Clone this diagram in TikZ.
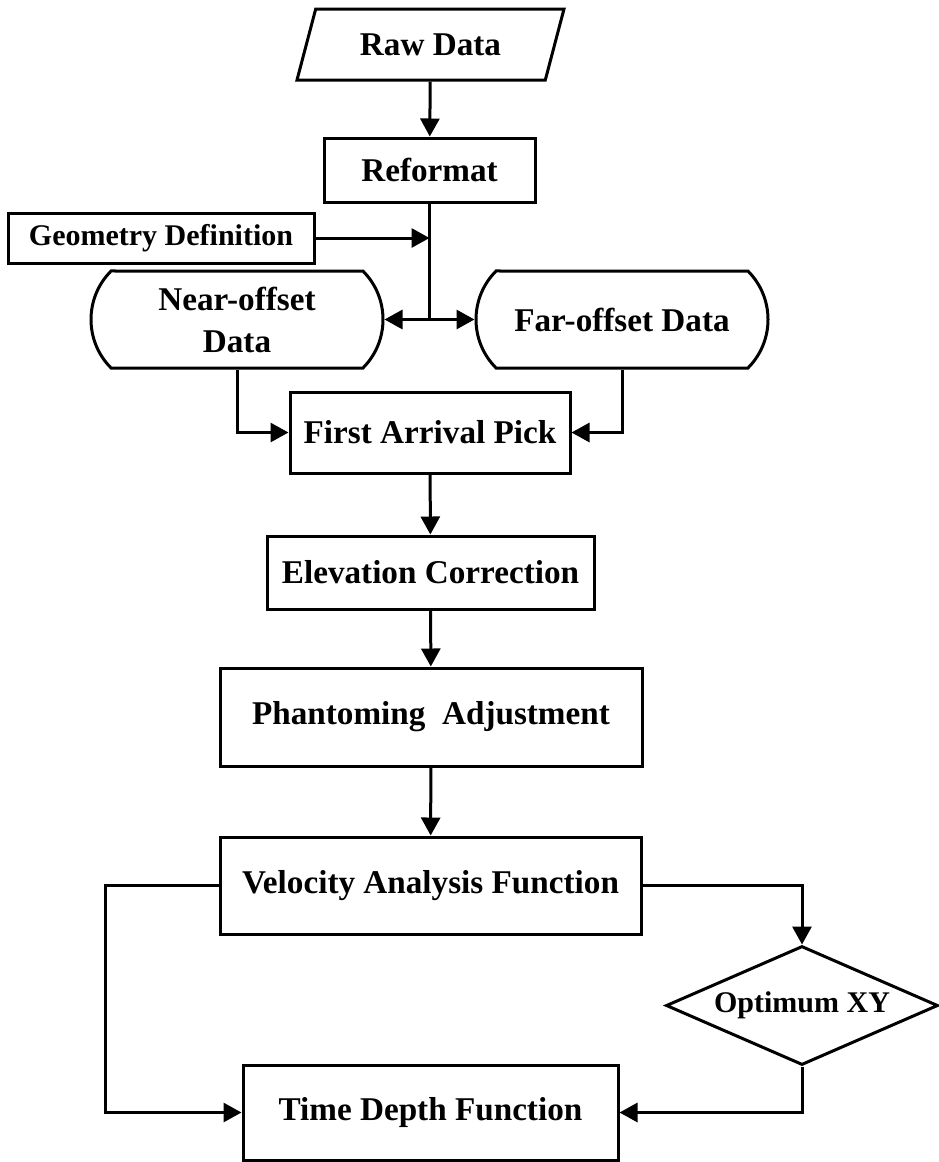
\documentclass[tikz,border=0pt]{standalone}
\usepackage{fontspec}
\setmainfont{Liberation Serif}
\usepackage{tikz}
\usetikzlibrary{arrows.meta,shapes.geometric,shapes.misc}
\newcommand{\bigtxt}{\bfseries\fontsize{16.6}{21}\selectfont}
\newcommand{\smalltxt}{\bfseries\fontsize{15}{18}\selectfont}

\begin{document}
\begin{tikzpicture}[
  x=0.5pt, y=-0.5pt,
  >={Triangle[length=9pt,width=9.5pt]},
  line width=1.5pt,
  edge/.style={->, line width=1.5pt},
  box/.style={draw, rectangle, align=center, inner sep=0pt, font=\bigtxt},
  datanode/.style={draw, rounded rectangle, rounded rectangle arc length=90,
                   align=center, inner sep=0pt, font=\bigtxt,
                   minimum width=146pt, minimum height=48.5pt},
  decide/.style={draw, diamond, shape aspect=2.3, inner sep=0pt, font=\smalltxt}
]
\useasboundingbox (0,0) rectangle (938,1162);

% main column
\node[draw, trapezium, trapezium left angle=62.5, trapezium right angle=117.5,
      trapezium stretches=true, minimum width=134.5pt, minimum height=35.5pt,
      inner sep=0pt, font=\bigtxt] (raw) at (430.5,44.5) {Raw Data};
\node[box, minimum width=105.5pt, minimum height=32pt] (reformat) at (429.5,170) {Reformat};
\node[box, minimum width=153pt, minimum height=25pt, font=\smalltxt] (geom) at (161,238) {Geometry Definition};
\node[datanode] (near) at (237,319.5) {Near-offset\\Data};
\node[datanode] (far) at (622,319.5) {Far-offset Data};
\node[box, minimum width=140pt, minimum height=40.5pt] (first) at (430,432.5) {First Arrival Pick};
\node[box, minimum width=163.5pt, minimum height=36.5pt] (elev) at (430.5,572.5) {Elevation Correction};
\node[box, minimum width=211pt, minimum height=49pt] (phant) at (431,717) {Phantoming\ \ Adjustment};
\node[box, minimum width=210.5pt, minimum height=48.5pt] (velo) at (430.5,885.5) {Velocity Analysis Function};
\node[decide, minimum width=136pt, minimum height=59.5pt] (opt) at (802,1005.5) {Optimum XY};
\node[box, minimum width=187.5pt, minimum height=47.5pt] (time) at (430.5,1112.5) {Time Depth Function};

\coordinate (split) at (reformat.south |- near.east);
\coordinate (loopL) at (105,885.5);

\draw[edge] (raw) -- (reformat);
\draw (reformat.south) -- (split);
\draw[edge] (geom.east) -- (geom.east -| reformat.south);
\draw[edge] (split) -- (near.east);
\draw[edge] (split) -- (far.west);
\draw[edge] (near.south) |- (first.west);
\draw[edge] (far.south) |- (first.east);
\draw[edge] (first) -- (elev);
\draw[edge] (elev) -- (phant);
\draw[edge] (phant) -- (velo);
\draw[edge] (velo.west) -- (loopL) |- (time.west);
\draw[edge] (velo.east) -| (opt.north);
\draw[edge] (opt.south) |- (time.east);
\end{tikzpicture}
\end{document}
